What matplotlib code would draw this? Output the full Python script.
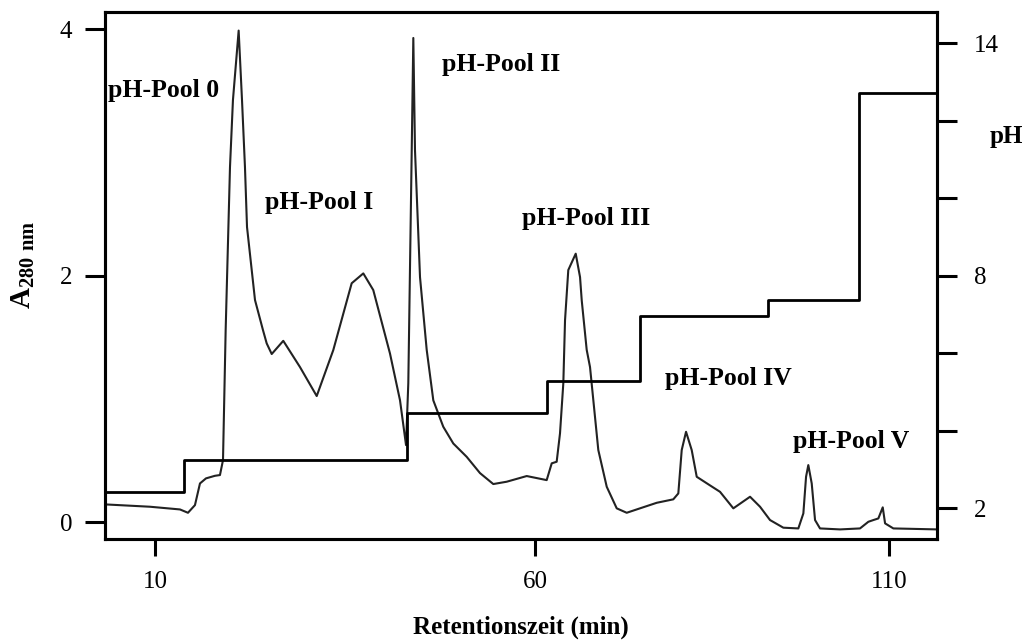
import numpy as np
import matplotlib
matplotlib.use("Agg")
import matplotlib.pyplot as plt
from matplotlib.ticker import NullLocator

plt.rcParams['font.family'] = ['Liberation Serif', 'DejaVu Serif']
plt.rcParams['mathtext.fontset'] = 'custom'
plt.rcParams['mathtext.rm'] = 'Liberation Serif'
plt.rcParams['mathtext.bf'] = 'Liberation Serif:bold'

# chromatogram, retention time (min) vs absorbance at 280 nm
time = [3.42, 9.34, 13.29, 14.34, 15.26, 15.92, 16.71, 17.89, 18.55, 18.95,
        19.30, 19.87, 20.26, 21.01, 21.45, 21.84, 22.11, 23.16, 24.21, 24.70,
        25.36, 26.88, 29.08, 31.28, 33.46, 35.88, 37.41, 38.72, 40.92, 42.24,
        43.03, 43.33, 43.78, 43.99, 44.21, 44.87, 45.75, 46.62, 47.93, 49.25,
        51.01, 52.76, 54.51, 56.28, 58.91, 61.65, 62.36, 63.06, 63.53, 64.00,
        64.24, 64.70, 65.75, 66.36, 66.60, 67.30, 67.77, 68.94, 70.13, 71.54,
        72.95, 74.83, 77.19, 79.53, 80.24, 80.72, 81.33, 82.13, 82.84, 84.72,
        86.13, 88.01, 90.37, 91.78, 93.19, 95.07, 97.19, 97.90, 98.28, 98.60,
        99.08, 99.55, 100.25, 103.08, 105.90, 107.08, 107.79, 108.49, 109.11, 109.44,
        110.61, 116.78]
absorb = [0.146, 0.127, 0.105, 0.078, 0.14, 0.316, 0.357, 0.378, 0.384, 0.505,
          1.56, 2.883, 3.427, 3.99, 3.427, 2.883, 2.396, 1.804, 1.56, 1.452,
          1.366, 1.473, 1.26, 1.025, 1.398, 1.94, 2.02, 1.885, 1.37, 0.99,
          0.627, 1.13, 3.02, 3.93, 3.02, 1.99, 1.40, 0.99, 0.776, 0.64,
          0.532, 0.40, 0.311, 0.33, 0.376, 0.343, 0.479, 0.492, 0.722, 1.13,
          1.64, 2.047, 2.18, 1.99, 1.80, 1.40, 1.26, 0.587, 0.289, 0.114,
          0.078, 0.114, 0.159, 0.187, 0.235, 0.587, 0.735, 0.587, 0.37, 0.30,
          0.248, 0.114, 0.208, 0.127, 0.019, -0.043, -0.049, 0.073, 0.37, 0.465,
          0.316, 0.019, -0.049, -0.057, -0.049, 0.005, 0.019, 0.032, 0.122, -0.008,
          -0.049, -0.057]

# pH gradient steps
step_time = [3.42, 13.86, 43.12, 61.65, 74.83, 92.87, 105.8, 116.78]
step_ph = [2.43, 3.25, 4.47, 5.30, 6.96, 7.38, 12.73, 12.73]

pools = ['pH-Pool 0', 'pH-Pool I', 'pH-Pool II', 'pH-Pool III', 'pH-Pool IV', 'pH-Pool V']
pool_x = [3.82, 24.47, 47.72, 58.25, 78.36, 96.48]
pool_y = [3.45, 2.54, 3.66, 2.41, 1.114, 0.603]

xticks = [10, 60, 110]
ph_ticks = [2, 4, 6, 8, 10, 12, 14]
ph_labels = ['2', '', '', '8', '', '', '14']


# the time axis of the recorder print is not evenly spaced
def fwd(t):
    t = np.asarray(t, dtype=float)
    return np.where(t < 60, (t - 60) * 7.6, (t - 60) * 7.08)


def inv(u):
    u = np.asarray(u, dtype=float)
    return np.where(u < 0, u / 7.6 + 60, u / 7.08 + 60)


fig = plt.figure(figsize=(10.26, 6.44), dpi=100)
ax = fig.add_axes([0.1023, 0.163, 0.811, 0.8188])
ax.set_xscale('function', functions=(fwd, inv))
ax2 = ax.twinx()

ax.plot(time, absorb, color='#222222', lw=1.5, solid_joinstyle='round')
ax2.step(step_time, step_ph, where='post', color='black', lw=2.0)

ax.set_xlim(3.42, 116.78)
ax.set_ylim(-0.135, 4.143)
ax2.set_ylim(1.21, 14.815)

ax.set_xticks(xticks)
ax.set_xticklabels([str(v) for v in xticks])
ax.xaxis.set_minor_locator(NullLocator())
ax.set_yticks([0, 2, 4])
ax2.set_yticks(ph_ticks)
ax2.set_yticklabels(ph_labels)

for a in (ax, ax2):
    for s in a.spines.values():
        s.set_linewidth(2.2)
        s.set_color('black')
ax.tick_params(axis='y', direction='out', length=14.5, width=2.2, pad=9, labelsize=18)
ax.tick_params(axis='x', direction='out', length=12, width=2.2, pad=11, labelsize=18)
ax2.tick_params(axis='y', direction='out', length=14.5, width=2.2, pad=12, labelsize=18)

for name, x, y in zip(pools, pool_x, pool_y):
    ax.text(x, y, name, fontsize=18.5, fontweight='bold', ha='left', va='baseline')

ax.set_xlabel('Retentionszeit (min)', fontsize=18, fontweight='bold', labelpad=16)
ax.set_ylabel(r'A$_{\mathbf{280\ nm}}$', fontsize=21, fontweight='bold')
ax.yaxis.set_label_coords(-0.082, 0.52)
fig.text(1006 / 1026, 1 - 137 / 644, 'pH', fontsize=18, fontweight='bold',
         ha='center', va='center')

fig.savefig('out.png', dpi=100)
